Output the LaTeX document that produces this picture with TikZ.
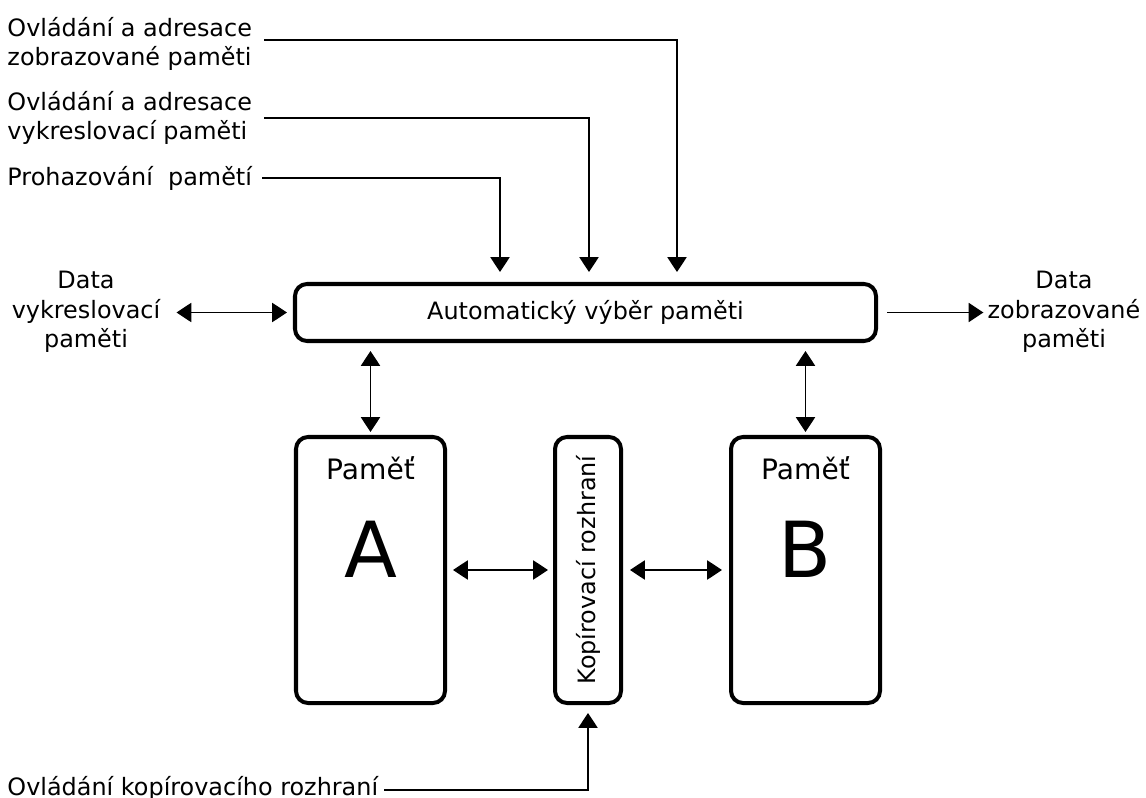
\documentclass[tikz,border=0pt]{standalone}
\usepackage{fontspec}
\setmainfont{DejaVu Sans}
\usetikzlibrary{arrows.meta,positioning,calc}

\tikzset{
  blok/.style={draw, line width=2.85pt, rounded corners=0.3cm, inner sep=0pt},
  popis/.style={inner sep=0pt, font=\fontsize{17}{21}\selectfont},
  nazev/.style={inner sep=0pt, font=\fontsize{20}{24}\selectfont},
  pismeno/.style={inner sep=0pt, font=\fontsize{55}{60}\selectfont},
  hrot/.tip={Triangle[length=10.5pt,width=13.5pt]},
  sipka/.style={line width=1.4pt, -hrot},
  obousipka/.style={line width=1.4pt, hrot-hrot},
}

\begin{document}
\begin{tikzpicture}
  \useasboundingbox (0,0) rectangle (28.65,-19.95);

  % bloky
  \node[blok, popis, minimum width=14.525cm, minimum height=1.425cm] (vyber) at (14.6375,-7.8125) {Automatický výběr paměti};
  \node[blok, minimum width=3.725cm, minimum height=6.65cm] (pametA) at (9.2625,-14.25) {};
  \node[blok, minimum width=1.65cm, minimum height=6.65cm] (kopir) at (14.7,-14.25) {};
  \node[blok, minimum width=3.725cm, minimum height=6.65cm] (pametB) at (20.1375,-14.25) {};
  \node[popis, rotate=90] (kopir-text) at (kopir) {Kopírovací rozhraní};

  \foreach \p/\l in {pametA/A, pametB/B} {
    \node[nazev, anchor=base] (\p-nazev) at ([yshift=-1.125cm]\p.north) {Paměť};
    \node[pismeno, anchor=base] (\p-pismeno) at ([yshift=-3.55cm]\p.north) {\l};
  }

  % popisky vstupu a vystupu
  \node[popis, align=left, anchor=north west] (vstup1) at (0.18,-0.425) {Ovládání a adresace\\zobrazované paměti};
  \node[popis, align=left, anchor=north west] (vstup2) at (0.18,-2.275) {Ovládání a adresace\\vykreslovací paměti};
  \node[popis, anchor=north west] (vstup3) at (0.18,-4.15) {Prohazování~ pamětí};
  \node[popis, anchor=north west] (ovlkop) at (0.18,-19.4) {Ovládání kopírovacího rozhraní};
  \node[popis, align=center] (dataV) at (2.15,-7.8) {Data\\vykreslovací\\paměti};
  \node[popis, align=center] (dataZ) at (26.6,-7.8) {Data\\zobrazované\\paměti};

  % ridici signaly
  \draw[sipka, shorten >=0.25cm] ([xshift=0.3cm,yshift=-0.575cm]vstup1.north east) -| ([xshift=2.2875cm]vyber.north);
  \draw[sipka, shorten >=0.25cm] ([xshift=0.3cm,yshift=-0.675cm]vstup2.north east) -| ([xshift=0.0875cm]vyber.north);
  \draw[sipka, shorten >=0.25cm] ([xshift=0.25cm]vstup3.east) -| ([xshift=-2.1375cm]vyber.north);
  \draw[sipka, shorten >=0.2cm] ([xshift=0.15cm,yshift=-0.05cm]ovlkop.east) -| (kopir.south);

  % datove cesty
  \draw[obousipka, shorten <=0.4cm, shorten >=0.15cm] (dataV.east |- vyber.west) -- (vyber.west);
  \draw[sipka, shorten <=0.225cm, shorten >=0.1cm] (vyber.east) -- (dataZ.west |- vyber.east);
  \draw[obousipka, shorten <=0.2cm, shorten >=0.075cm] (pametA.north |- vyber.south) -- (pametA.north);
  \draw[obousipka, shorten <=0.2cm, shorten >=0.075cm] (pametB.north |- vyber.south) -- (pametB.north);
  \draw[obousipka, shorten <=0.15cm, shorten >=0.125cm] (pametA.east) -- (kopir.west);
  \draw[obousipka, shorten <=0.175cm, shorten >=0.175cm] (kopir.east) -- (pametB.west);
\end{tikzpicture}
\end{document}
